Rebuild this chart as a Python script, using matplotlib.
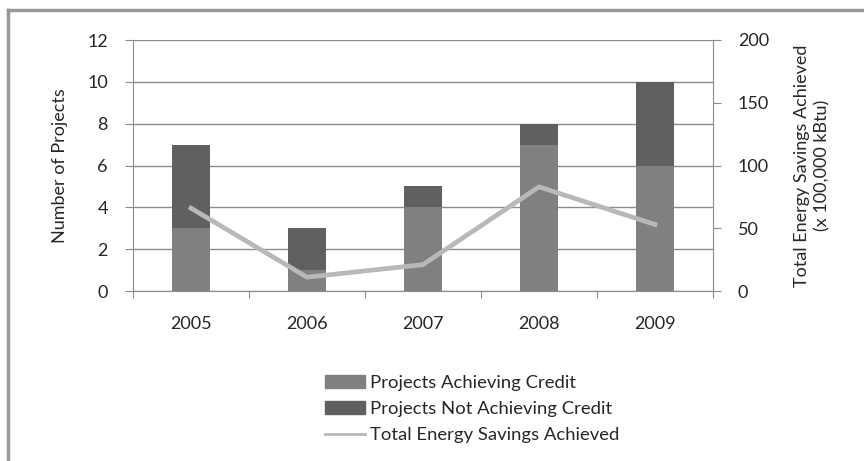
import matplotlib
matplotlib.use("Agg")
import matplotlib.pyplot as plt
from matplotlib.lines import Line2D
from matplotlib.patches import Patch
import numpy as np

years = ["2005", "2006", "2007", "2008", "2009"]
achieving = [3, 1, 4, 7, 6]
not_achieving = [4, 2, 1, 1, 4]
energy_savings = [66, 11, 21, 83, 53]

plt.rcParams['font.family'] = ['Lato', 'DejaVu Sans']
W, H = 864, 461
FS = 13
TXT = "#262626"
fig = plt.figure(figsize=(W/100, H/100), dpi=100)
ax = fig.add_axes([133/W, 1-291/H, 580/W, 251/H])
x = np.arange(len(years))
c_ach = "#808080"
c_not = "#606060"
c_line = "#b8b8b8"
ax.bar(x, achieving, width=0.32, color=c_ach, zorder=2)
ax.bar(x, not_achieving, width=0.32, bottom=achieving, color=c_not, zorder=2)
ax.set_xlim(-0.5, 4.5)
ax.set_ylim(0, 12)
ax.set_yticks(range(0, 13, 2))
ax.yaxis.grid(True, color="#8c8c8c", linewidth=1)
ax.set_axisbelow(True)
ax.spines["top"].set_visible(False)
for s in ["left", "bottom", "right"]:
    ax.spines[s].set_color("#8c8c8c")
ax.set_xticks(np.arange(-0.5, 5, 1))
ax.set_xticklabels([])
ax.set_xticks(x, minor=True)
ax.set_xticklabels(years, minor=True)
ax.tick_params(axis="x", which="major", length=5, color="#8c8c8c", direction="out")
ax.tick_params(axis="x", which="minor", length=0, pad=18, labelsize=FS, labelcolor=TXT)
ax.tick_params(axis="y", length=6, color="#8c8c8c", labelsize=FS, labelcolor=TXT, pad=12)
ax.set_ylabel("Number of Projects", fontsize=FS, color=TXT, labelpad=14)

ax2 = ax.twinx()
ax2.plot(x, energy_savings, color=c_line, linewidth=3.4, zorder=3)
ax2.set_ylim(0, 200)
ax2.set_yticks(range(0, 201, 50))
ax2.tick_params(axis="y", length=6, color="#8c8c8c", labelsize=FS, labelcolor=TXT, pad=12)
for s in ax2.spines.values():
    s.set_visible(False)
ax2.set_ylabel("Total Energy Savings Achieved\n(x 100,000 kBtu)", fontsize=FS, color=TXT,
               labelpad=18, linespacing=1.3)

handles = [Patch(color=c_ach, label="Projects Achieving Credit"),
           Patch(color=c_not, label="Projects Not Achieving Credit"),
           Line2D([0], [0], color=c_line, linewidth=2, label="Total Energy Savings Achieved")]
fig.legend(handles=handles, loc="center", bbox_to_anchor=(472/W, 1-409/H), frameon=False,
           fontsize=FS + 0.3, handlelength=2.2, handleheight=0.7, labelspacing=0.55, handletextpad=0.25,
           labelcolor=TXT)

fig.add_artist(Line2D([8/W, 1], [1-10/H, 1-10/H], color="#999999", linewidth=2.5))
fig.add_artist(Line2D([8/W, 8/W], [0, 1-10/H], color="#999999", linewidth=2.5))
fig.savefig("out.png", dpi=100)
